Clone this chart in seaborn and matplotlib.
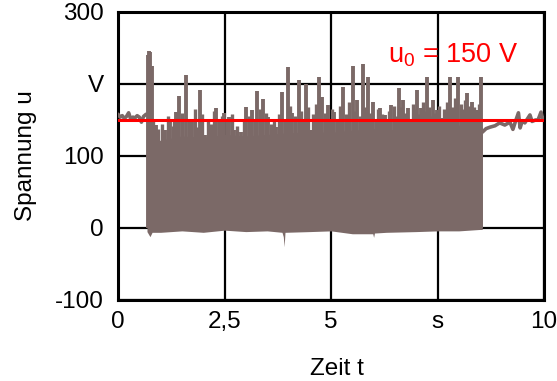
import matplotlib
matplotlib.use("Agg")
import matplotlib.pyplot as plt
import seaborn as sns

# ---- data ----
pre_t = [0.0, 0.05, 0.1, 0.15, 0.2, 0.25, 0.3, 0.35, 0.4, 0.45, 0.5, 0.55, 0.6, 0.66]
pre_u = [158, 154, 156, 152, 155, 160, 151, 154, 153, 156, 154, 147, 155, 158]

burst_t = [0.68, 0.75, 0.8, 1.0, 1.5, 2.0, 2.5, 3.0, 3.5, 3.85, 3.88, 3.9, 3.92, 4.5, 5.0, 5.5, 5.98, 6.0, 6.02, 6.3, 7.0, 7.5, 8.0, 8.5, 8.55]
burst_low = [-5, -12, -6, -6, -4, -6, -3, -5, -4, -6, -12, -26, -6, -5, -4, -8, -8, -13, -7, -6, -5, -4, -4, -2, -2]
burst_top = [125, 125, 120, 122, 128, 126, 130, 128, 130, 132, 132, 132, 132, 134, 133, 136, 138, 138, 138, 136, 140, 141, 143, 144, 140]

spike_t = [0.70, 0.73, 0.76, 0.79, 0.89, 1.11, 1.22, 1.36, 1.44, 1.60, 1.74, 1.93, 2.05, 2.31, 2.49, 2.61,
           2.73, 2.89, 3.01, 3.15, 3.27, 3.41, 3.53, 3.72, 3.84, 4.00, 4.09, 4.24, 4.42, 4.52, 4.71,
           4.80, 4.92, 5.08, 5.29, 5.51, 5.62, 5.74, 5.86, 5.98, 6.14, 6.26, 6.42, 6.59, 6.68, 6.80,
           7.01, 7.11, 7.25, 7.39, 7.48, 7.60, 7.79, 7.98, 8.19, 8.31, 8.42, 8.52]
spike_u = [240, 246, 244, 225, 143, 136, 150, 161, 183, 212, 147, 192, 129, 167, 160, 154,
           136, 133, 168, 164, 190, 179, 154, 140, 189, 224, 160, 205, 200, 136, 210,
           182, 171, 161, 196, 225, 178, 228, 210, 175, 167, 157, 171, 194, 178, 167,
           192, 167, 210, 178, 164, 153, 210, 210, 187, 175, 164, 210]

minor_t = [0.82, 0.95, 1.03, 1.17, 1.28, 1.32, 1.50, 1.67, 1.80, 1.86, 1.98, 2.12, 2.18, 2.25, 2.38,
           2.44, 2.55, 2.67, 2.80, 2.95, 3.07, 3.21, 3.34, 3.47, 3.60, 3.66, 3.78, 3.93, 4.04, 4.15,
           4.30, 4.36, 4.47, 4.58, 4.64, 4.86, 4.98, 5.03, 5.14, 5.20, 5.35, 5.42, 5.57, 5.68, 5.80,
           5.92, 6.05, 6.10, 6.20, 6.32, 6.37, 6.48, 6.54, 6.63, 6.74, 6.86, 6.92, 6.97, 7.06, 7.17,
           7.21, 7.31, 7.35, 7.44, 7.54, 7.66, 7.72, 7.85, 7.92, 8.04, 8.10, 8.14, 8.25, 8.36, 8.47]
minor_u = [150, 138, 145, 155, 142, 148, 160, 152, 165, 140, 158, 150, 145, 162, 148,
           155, 150, 158, 142, 150, 155, 148, 165, 160, 145, 152, 158, 150, 170, 155,
           162, 150, 168, 158, 172, 160, 152, 165, 150, 170, 158, 175, 162, 155, 168,
           160, 150, 165, 158, 148, 162, 170, 155, 168, 160, 150, 172, 165, 158, 175,
           162, 168, 155, 160, 170, 165, 175, 168, 180, 172, 165, 178, 170, 168, 172]

post_t = [8.55, 8.64, 8.73, 8.85, 8.96, 9.08, 9.2, 9.27, 9.33, 9.40, 9.44, 9.49, 9.55, 9.67, 9.72, 9.80, 9.86, 9.93, 9.97, 10.0]
post_u = [133, 138, 140, 142, 146, 143, 147, 137, 148, 160, 139, 149, 146, 157, 148, 150, 150, 161, 151, 152]

u0 = 150
x_ticks = [0, 2.5, 5, 7.5, 10]
x_labels = ["0", "2,5", "5", "s", "10"]
y_ticks = [-100, 0, 100, 200, 300]
y_labels = ["-100", "0", "100", "V", "300"]

sig_color = "#7b6967"
FS = 17.5

sns.set_theme(style="white")
plt.rcParams["font.family"] = ["Liberation Sans", "DejaVu Sans"]
plt.rcParams["mathtext.fontset"] = "custom"
plt.rcParams["mathtext.rm"] = "Liberation Sans"

fig = plt.figure(figsize=(5.57, 3.81), dpi=100)
ax = fig.add_axes([118 / 557, 1 - 300 / 381, (544 - 118) / 557, (300 - 12) / 381])

ax.set_xlim(0, 10)
ax.set_ylim(-100, 300)
ax.set_xticks(x_ticks)
ax.set_xticklabels(x_labels)
ax.set_yticks(y_ticks)
ax.set_yticklabels(y_labels)
ax.grid(True, color="black", linewidth=1.6)
ax.set_axisbelow(True)

# signal
ax.fill_between(burst_t, burst_low, burst_top, color=sig_color, linewidth=0, zorder=3)
ax.vlines(minor_t, [0] * len(minor_t), minor_u, color=sig_color, linewidth=2.4, zorder=3)
ax.vlines(spike_t, [0] * len(spike_t), spike_u, color=sig_color, linewidth=2.8, zorder=3)
sns.lineplot(x=pre_t, y=pre_u, ax=ax, color=sig_color, linewidth=2.6, zorder=3)
sns.lineplot(x=post_t, y=post_u, ax=ax, color=sig_color, linewidth=2.6, zorder=3)

# reference line
sns.lineplot(x=[0, 10], y=[u0, u0], ax=ax, color="red", linewidth=2.2, zorder=4)
ax.text(7.86, 230, r"u$_\mathregular{0}$ = 150 V", color="red", fontsize=19.5,
        ha="center", va="baseline", zorder=5)

for s in ax.spines.values():
    s.set_visible(True)
    s.set_color("black")
    s.set_linewidth(2.2)

ax.tick_params(axis="both", length=0, labelsize=FS, colors="black")
ax.tick_params(axis="x", pad=8)
ax.tick_params(axis="y", pad=10)
ax.set_xlabel("Zeit t", fontsize=FS, color="black")
ax.set_ylabel("Spannung u", fontsize=FS, color="black")
ax.xaxis.set_label_coords(0.514, -0.203)
ax.yaxis.set_label_coords(-0.19, 0.503)

fig.savefig("out.png", dpi=100)
